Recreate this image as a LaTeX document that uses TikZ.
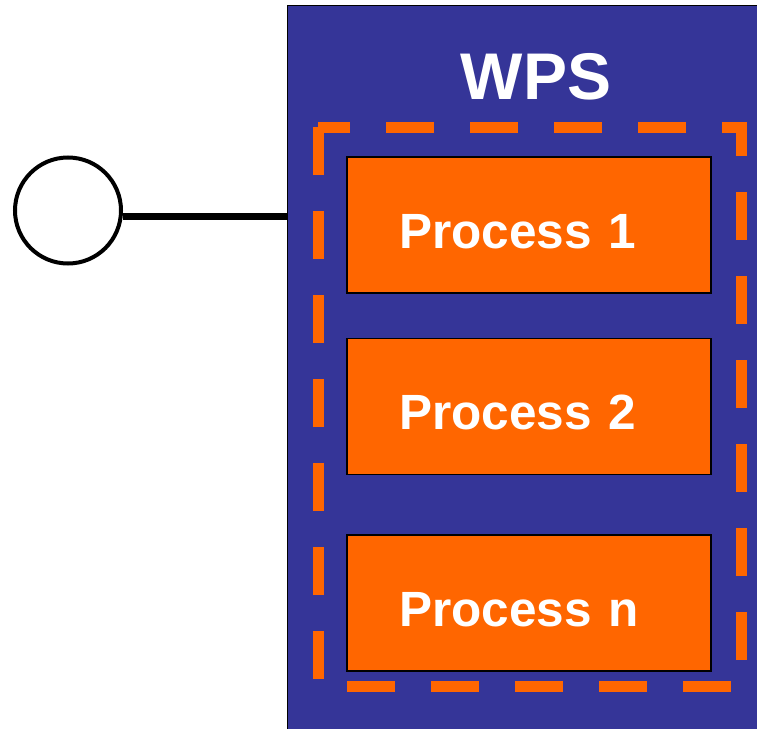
\documentclass[tikz,border=0pt]{standalone}
\usepackage{fontspec}
\setmainfont{Liberation Sans}
\usepackage{tikz}
\usetikzlibrary{calc}
\definecolor{wpsblue}{RGB}{53,53,152}
\definecolor{procorange}{RGB}{255,102,0}
\tikzset{
    wpsbox/.style={draw=black, line width=1.2pt, fill=wpsblue, rectangle, anchor=north west,
        minimum width=480pt, minimum height=740pt},
    procbox/.style={draw=black, line width=1.6pt, fill=procorange, rectangle, text=white,
        font=\bfseries\fontsize{49.5}{60}\selectfont, inner xsep=52pt, text width=260pt,
        text height=46pt, text depth=0pt, align=left, minimum height=136pt},
    portcircle/.style={draw=black, line width=4pt, fill=white, circle, minimum size=106pt, inner sep=0pt},
    dashline/.style={draw=procorange, line width=11pt, dash pattern=on 48pt off 36pt}
}

\begin{document}
\begin{tikzpicture}[x=1pt,y=-1pt]
        \useasboundingbox (0,0) rectangle (757,728);
        \clip (0,0) rectangle (757,728);
        \node[wpsbox] (wps) at (287,5) {};
        \node[anchor=base, text=white, font=\bfseries\fontsize{66}{70}\selectfont] (wpstitle) at (536,99) {WPS};
        \draw[dashline] (318,127) rectangle (741,686);
        \foreach \y/\n in {225/1, 406.5/2, 603/n}
        \node[procbox] (p\n) at (529,\y) {Process \n};
        \node[portcircle] (port) at (68,210.5) {};
        \draw[line width=6.5pt] (port.-6) -- (port.-6 -| wps.west);
    \end{tikzpicture}
\end{document}
